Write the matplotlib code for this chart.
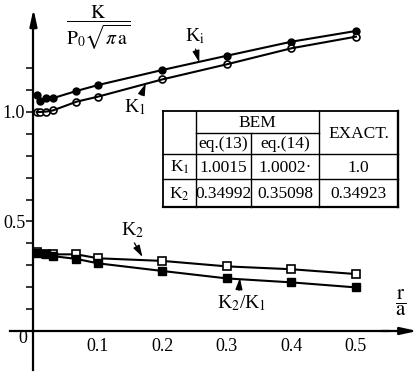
import matplotlib
matplotlib.use('Agg')
from matplotlib import pyplot as plt
import numpy as np

plt.rcParams['font.family'] = ['Liberation Serif', 'DejaVu Serif']
plt.rcParams['mathtext.fontset'] = 'stix'

# r/a positions of the computed points
x_circ = [0.005, 0.01, 0.02, 0.03, 0.0667, 0.1, 0.2, 0.3, 0.4, 0.5]
k_i = [1.078, 1.052, 1.065, 1.063, 1.096, 1.123, 1.192, 1.257, 1.321, 1.370]
k_1 = [1.000, 1.000, 1.002, 1.007, 1.047, 1.070, 1.149, 1.218, 1.291, 1.344]

x_sq = [0.005, 0.02, 0.03, 0.0667, 0.1, 0.2, 0.3, 0.4, 0.5]
k_2 = [0.362, 0.352, 0.350, 0.350, 0.332, 0.320, 0.295, 0.282, 0.260]
k2_over_k1 = [0.357, 0.350, 0.342, 0.329, 0.309, 0.274, 0.240, 0.222, 0.199]

x_ticks = [0.1, 0.2, 0.3, 0.4, 0.5]
x_tick_labels = ['0.1', '0.2', '0.3', '0.4', '0.5']
y_major = [0.5, 1.0]
y_minor = np.round(np.arange(0.1, 1.25, 0.1), 2)

# table contents
col_heads = ['eq.(13)', 'eq.(14)']
row_heads = [r'K$_1$', r'K$_2$']
table_vals = [['1.0015', '1.0002·', '1.0'],
              ['0.34992', '0.35098', '0.34923']]

W, H = 419, 376
fig = plt.figure(figsize=(W / 100, H / 100), dpi=100)
ax = fig.add_axes([0, 0, 1, 1])
ax.set_xlim(-0.0519, 0.5977)
ax.set_ylim(-0.2055, 1.5114)

lw = 1.5
ax.plot(x_circ, k_i, color='black', lw=0, marker='o', ms=5)
ax.plot(x_circ[3:], k_i[3:], color='black', lw=lw)
ax.plot(x_circ, k_1, color='black', lw=0, marker='o', ms=5, mfc='white', mew=1.2)
ax.plot(x_circ, k_1, color='black', lw=lw)
ax.plot(x_sq, k_2, color='black', lw=lw, marker='s', ms=5.5, mfc='white', mew=1.2)
ax.plot(x_sq[2:], k2_over_k1[2:], color='black', lw=lw)
ax.plot(x_sq, k2_over_k1, color='black', lw=0, marker='s', ms=5.5)

# axes through the origin with arrowheads
for s in ['top', 'right']:
    ax.spines[s].set_visible(False)
ax.spines['left'].set_position(('data', 0))
ax.spines['bottom'].set_position(('data', 0))
ax.spines['left'].set_bounds(-0.18, 1.40)
ax.spines['bottom'].set_bounds(-0.036, 0.55)
ax.spines['left'].set_linewidth(1.6)
ax.spines['bottom'].set_linewidth(1.6)
ax.annotate('', xy=(0, 1.47), xytext=(0, 1.38),
            arrowprops=dict(arrowstyle='-|>,head_length=1.0,head_width=0.22',
                            color='black', lw=1.6, shrinkA=0, shrinkB=0))
ax.annotate('', xy=(0.595, 0), xytext=(0.54, 0),
            arrowprops=dict(arrowstyle='-|>,head_length=1.0,head_width=0.22',
                            color='black', lw=1.6, shrinkA=0, shrinkB=0))

ax.set_xticks(x_ticks)
ax.set_xticklabels(x_tick_labels, fontsize=13)
ax.tick_params(axis='x', length=0, pad=5)
ax.set_yticks(y_major)
ax.set_yticklabels(['0.5', '1.0'], fontsize=13)
ax.set_yticks(y_minor, minor=True)
ax.tick_params(axis='y', which='both', direction='out', length=5, width=1.1, pad=1)
ax.text(-0.017, -0.036, '0', fontsize=13, ha='center', va='center')

ax.text(0.1, 1.385, r'$\dfrac{\mathrm{K}}{\mathrm{P_0}\sqrt{\pi\,\mathrm{a}}}$',
        fontsize=14, ha='center', va='center')
ax.text(0.57, 0.13, r'$\dfrac{\mathrm{r}}{\mathrm{a}}$', fontsize=15,
        ha='center', va='center')

arrow = dict(arrowstyle='-|>,head_length=0.5,head_width=0.15', color='black',
             lw=0.9, shrinkA=0, shrinkB=0)
ax.annotate(r'K$_\mathrm{i}$', xy=(0.257, 1.227), xytext=(0.250, 1.345),
            fontsize=14, ha='center', va='center',
            arrowprops=dict(arrow, relpos=(0.5, 0)))
ax.annotate(r'K$_1$', xy=(0.174, 1.13), xytext=(0.157, 1.02),
            fontsize=14, ha='center', va='center',
            arrowprops=dict(arrow, relpos=(0.75, 1)))
ax.annotate(r'K$_2$', xy=(0.169, 0.338), xytext=(0.154, 0.46),
            fontsize=14, ha='center', va='center',
            arrowprops=dict(arrow, relpos=(0.5, 0)))
ax.annotate(r'K$_2$/K$_1$', xy=(0.320, 0.243), xytext=(0.322, 0.128),
            fontsize=14, ha='center', va='center',
            arrowprops=dict(arrow, relpos=(0.45, 1)))


# table drawn in pixel positions
def px(x, y):
    return x / W, 1 - y / H


xs = [163, 196, 251, 319, 398]
ys = [111, 133, 154, 179, 207]
tk = dict(color='black', transform=fig.transFigure, solid_capstyle='projecting')


def hline(y, x0, x1, w=1.0):
    (a, b), (c, d) = px(x0, y), px(x1, y)
    ax.plot([a, c], [b, d], lw=w, **tk)


def vline(x, y0, y1, w=1.0):
    (a, b), (c, d) = px(x, y0), px(x, y1)
    ax.plot([a, c], [b, d], lw=w, **tk)


hline(ys[0], xs[0], xs[4], 1.3)
hline(ys[4], xs[0], xs[4], 1.6)
vline(xs[0], ys[0], ys[4], 1.3)
vline(xs[4], ys[0], ys[4], 1.7)
hline(ys[1], xs[1], xs[3])
hline(ys[2], xs[0], xs[4])
hline(ys[3], xs[0], xs[4])
vline(xs[1], ys[0], ys[4])
vline(xs[2], ys[1], ys[4])
vline(xs[3], ys[0], ys[4])

ts = dict(fontsize=12.5, ha='center', va='center', transform=fig.transFigure)
fig.text(*px((xs[1] + xs[3]) / 2, (ys[0] + ys[1]) / 2 + 1), 'BEM', **ts)
for j, lab in enumerate(col_heads):
    fig.text(*px((xs[j + 1] + xs[j + 2]) / 2, (ys[1] + ys[2]) / 2 + 1), lab, **ts)
fig.text(*px((xs[3] + xs[4]) / 2, (ys[0] + ys[2]) / 2 + 1), 'EXACT.', **ts)
for i, rh in enumerate(row_heads):
    yc = (ys[i + 2] + ys[i + 3]) / 2 + 1
    fig.text(*px((xs[0] + xs[1]) / 2, yc), rh, **ts)
    for j, v in enumerate(table_vals[i]):
        fig.text(*px((xs[j + 1] + xs[j + 2]) / 2, yc), v, **ts)

fig.savefig('out.png', dpi=100)
